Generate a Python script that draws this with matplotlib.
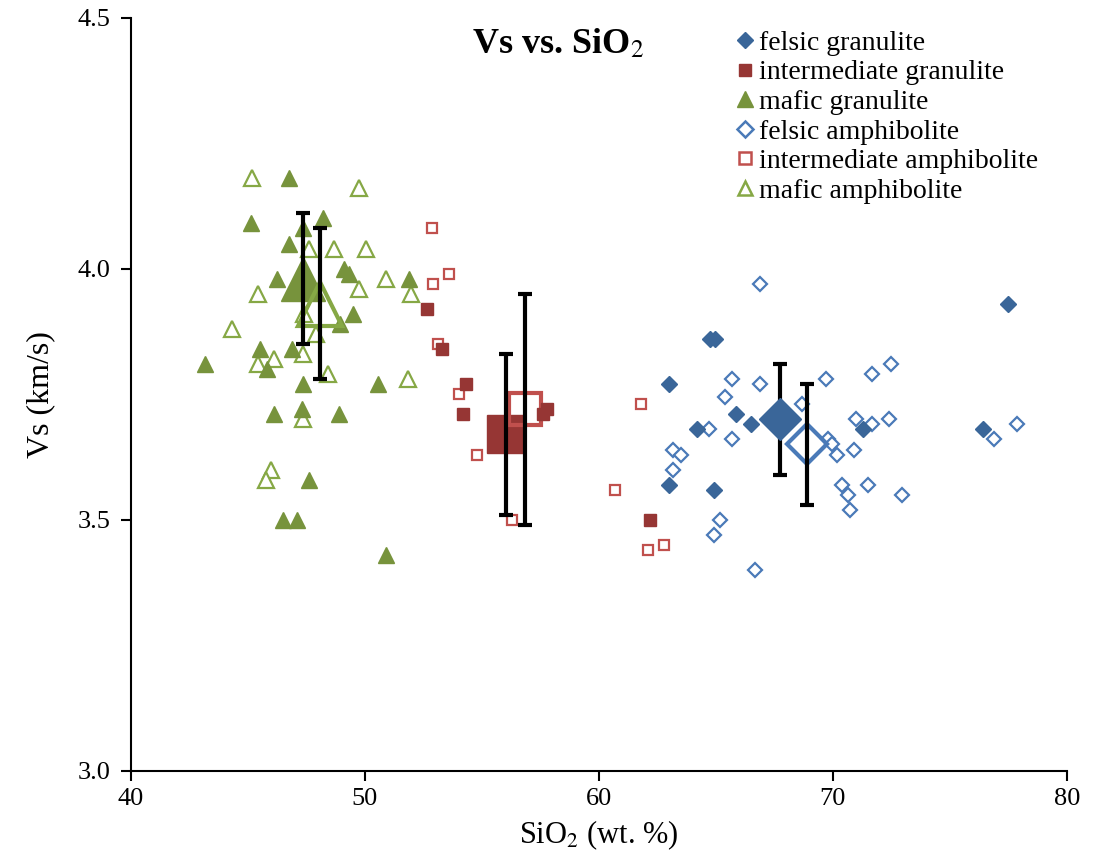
import matplotlib
matplotlib.use('Agg')
import matplotlib.pyplot as plt
from matplotlib.lines import Line2D

plt.rcParams['font.family'] = ['Liberation Serif', 'DejaVu Serif']
plt.rcParams['mathtext.fontset'] = 'stix'

# individual samples (SiO2 wt.%, Vs km/s)
felsic_gran_x = [64.75, 64.95, 63.0, 65.85, 66.5, 64.2, 63.0, 64.9, 77.5, 76.4, 71.3]
felsic_gran_y = [3.86, 3.86, 3.77, 3.71, 3.69, 3.68, 3.57, 3.56, 3.93, 3.68, 3.68]

inter_gran_x = [52.65, 53.3, 54.3, 54.2, 57.8, 57.6, 62.2]
inter_gran_y = [3.92, 3.84, 3.77, 3.71, 3.72, 3.71, 3.50]

mafic_gran_x = [46.75, 45.13, 48.2, 47.35, 46.75, 49.1, 49.3, 46.24, 51.88, 49.49,
                48.93, 45.5, 46.9, 45.8, 43.16, 47.35, 50.56, 46.1, 47.3, 48.9,
                47.6, 46.5, 47.1, 50.9]
mafic_gran_y = [4.18, 4.09, 4.10, 4.08, 4.05, 4.00, 3.99, 3.98, 3.98, 3.91,
                3.89, 3.84, 3.84, 3.80, 3.81, 3.77, 3.77, 3.71, 3.72, 3.71,
                3.58, 3.50, 3.50, 3.43]

felsic_amph_x = [66.88, 65.7, 66.9, 65.4, 64.7, 65.68, 63.16, 63.5, 63.16, 65.17,
                 64.9, 66.67, 68.68, 69.7, 69.8, 69.95, 70.17, 70.9, 70.98, 71.67,
                 72.4, 71.67, 72.48, 70.38, 70.64, 71.5, 72.95, 70.73, 76.9, 77.86]
felsic_amph_y = [3.97, 3.78, 3.77, 3.745, 3.68, 3.66, 3.64, 3.63, 3.60, 3.50,
                 3.47, 3.40, 3.73, 3.78, 3.66, 3.65, 3.63, 3.64, 3.70, 3.69,
                 3.70, 3.79, 3.81, 3.57, 3.55, 3.57, 3.55, 3.52, 3.66, 3.69]

inter_amph_x = [52.87, 53.6, 52.9, 53.1, 54.0, 54.8, 56.28, 61.8, 60.68, 62.8, 62.1]
inter_amph_y = [4.08, 3.99, 3.97, 3.85, 3.75, 3.63, 3.50, 3.73, 3.56, 3.45, 3.44]

mafic_amph_x = [45.17, 49.74, 47.6, 48.68, 50.04, 45.43, 49.74, 50.9, 51.97, 44.32,
                47.9, 47.4, 45.43, 46.1, 47.35, 48.4, 51.84, 47.35, 46.0, 45.77]
mafic_amph_y = [4.18, 4.16, 4.04, 4.04, 4.04, 3.95, 3.96, 3.98, 3.95, 3.88,
                3.87, 3.91, 3.81, 3.82, 3.83, 3.79, 3.78, 3.70, 3.60, 3.58]

# group means and standard deviations
labels = ['felsic granulite', 'intermediate granulite', 'mafic granulite',
          'felsic amphibolite', 'intermediate amphibolite', 'mafic amphibolite']
mean_x = [67.74, 56.03, 47.33, 68.9, 56.86, 48.08]
mean_y = [3.70, 3.67, 3.98, 3.65, 3.72, 3.93]
std_y = [0.11, 0.16, 0.13, 0.12, 0.23, 0.15]

c_fg = '#3A6699'
c_ig = '#963634'
c_mg = '#77933C'
c_fa = '#4A7AB8'
c_ia = '#C0504D'
c_ma = '#86A845'

fig = plt.figure(figsize=(11.01, 8.58), dpi=100)
ax = fig.add_axes([0.119, 0.1014, 0.850, 0.8782])

# small sample markers
ax.plot(mafic_amph_x, mafic_amph_y, '^', ms=11, mfc='white', mec=c_ma, mew=1.6, ls='none', zorder=2)
ax.plot(mafic_gran_x, mafic_gran_y, '^', ms=12, color=c_mg, ls='none', zorder=2)
ax.plot(inter_amph_x, inter_amph_y, 's', ms=7.5, mfc='white', mec=c_ia, mew=1.6, ls='none', zorder=2)
ax.plot(felsic_amph_x, felsic_amph_y, 'D', ms=7.5, mfc='white', mec=c_fa, mew=1.6, ls='none', zorder=2)
ax.plot(felsic_gran_x, felsic_gran_y, 'D', ms=8, color=c_fg, ls='none', zorder=2)

# group means
ax.plot(mean_x[2], mean_y[2], '^', ms=32, color=c_mg, zorder=3)
ax.plot(mean_x[5], mean_y[5], '^', ms=31, mfc='none', mec=c_ma, mew=3, zorder=3)
ax.plot(mean_x[1], mean_y[1], 's', ms=27, color=c_ig, zorder=3)
ax.plot(mean_x[4], mean_y[4], 's', ms=23, mfc='none', mec=c_ia, mew=3, zorder=3)
ax.plot(mean_x[3], mean_y[3], 'D', ms=20, mfc='none', mec=c_fa, mew=3, zorder=3)
ax.plot(mean_x[0], mean_y[0], 'D', ms=21, color=c_fg, zorder=5)
ax.plot(inter_gran_x, inter_gran_y, 's', ms=8, color=c_ig, ls='none', zorder=3.5)

ax.errorbar(mean_x, mean_y, yerr=std_y, fmt='none', ecolor='black',
            elinewidth=3, capsize=5, capthick=3, zorder=4)

ax.set_xlim(40, 80)
ax.set_ylim(3.0, 4.5)
ax.set_xticks([40, 50, 60, 70, 80])
ax.set_yticks([3.0, 3.5, 4.0, 4.5])
ax.set_yticklabels(['3.0', '3.5', '4.0', '4.5'])
ax.spines['top'].set_visible(False)
ax.spines['right'].set_visible(False)
ax.spines['left'].set_linewidth(1.5)
ax.spines['bottom'].set_linewidth(1.5)
ax.tick_params(direction='out', length=7, width=1.5, labelsize=19)
ax.tick_params(axis='y', pad=8)
ax.tick_params(axis='x', pad=5)
ax.set_xlabel('SiO$_2$ (wt. %)', fontsize=22, labelpad=6)
ax.set_ylabel('Vs (km/s)', fontsize=23, labelpad=16)

ax.text(0.4565, 0.965, 'Vs vs. SiO$_2$', transform=ax.transAxes, fontsize=26,
        fontweight='bold', ha='center', va='center')

handles = [
    Line2D([], [], marker='D', ms=8, color=c_fg, ls='none'),
    Line2D([], [], marker='s', ms=9, color=c_ig, ls='none'),
    Line2D([], [], marker='^', ms=11, color=c_mg, ls='none'),
    Line2D([], [], marker='D', ms=8, mfc='white', mec=c_fa, mew=1.8, ls='none'),
    Line2D([], [], marker='s', ms=9, mfc='white', mec=c_ia, mew=1.8, ls='none'),
    Line2D([], [], marker='^', ms=10, mfc='white', mec=c_ma, mew=1.8, ls='none'),
]
ax.legend(handles, labels, loc='upper left', bbox_to_anchor=(0.647, 0.983),
          frameon=False, fontsize=20, handlelength=0.6, handletextpad=0.2,
          labelspacing=0.15, borderpad=0, borderaxespad=0)

fig.savefig('out.png', dpi=100)
